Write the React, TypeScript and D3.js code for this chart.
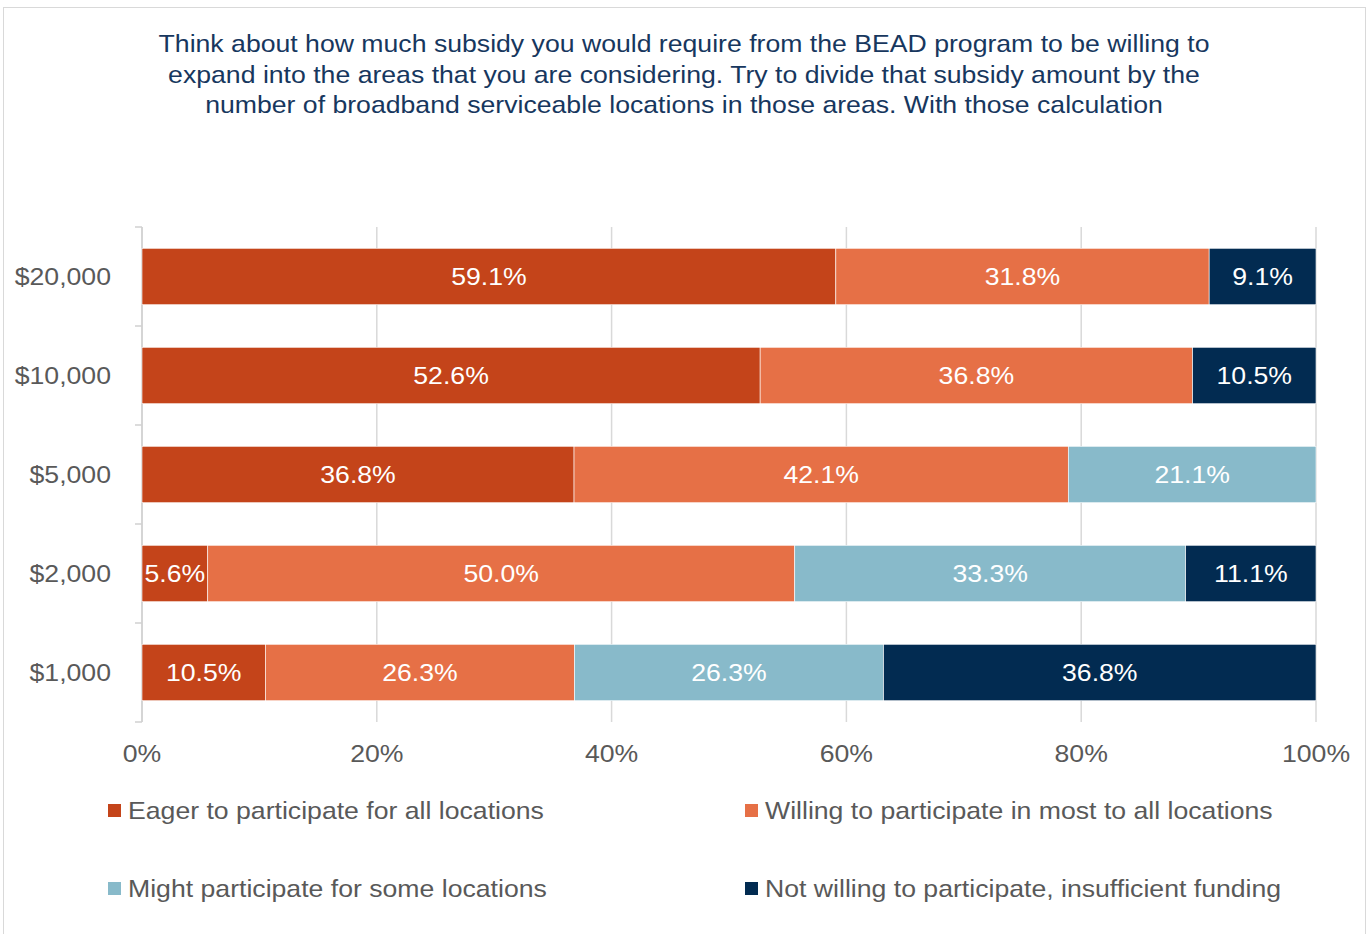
import React from "react";
import * as d3 from "d3";

const categories = ["$20,000", "$10,000", "$5,000", "$2,000", "$1,000"];
const seriesNames = [
  "Eager to participate for all locations",
  "Willing to participate in most to all locations",
  "Might participate for some locations",
  "Not willing to participate, insufficient funding",
];
const eager = [59.1, 52.6, 36.8, 5.6, 10.5];
const willing = [31.8, 36.8, 42.1, 50.0, 26.3];
const might = [0, 0, 21.1, 33.3, 26.3];
const notWilling = [9.1, 10.5, 0, 11.1, 36.8];
const xTicks = [0, 20, 40, 60, 80, 100];
const titleLines = [
  "Think about how much subsidy you would require from the BEAD program to be willing to",
  "expand into the areas that you are considering. Try to divide that subsidy amount by the",
  "number of broadband serviceable locations in those areas. With those calculation",
];

const colors = ["#C4441A", "#E67046", "#88BACA", "#022B51"];
const FONT = "'Liberation Sans', Arial, sans-serif";
const SX = 1.11;

function T({ x, y, anchor = "start", fill, size = 24, children }: any) {
  return (
    <g transform={`translate(${x},${y}) scale(${SX},1)`}>
      <text x={0} y={0} dy="0.35em" textAnchor={anchor} fontSize={size} fill={fill}>
        {children}
      </text>
    </g>
  );
}

export default function App() {
  const W = 1371, H = 934;
  const x = d3.scaleLinear().domain([0, 100]).range([142, 1316]);
  const y = d3.scaleBand().domain(categories).range([227, 722]).paddingInner(0.43).paddingOuter(0.215);
  const series = [eager, willing, might, notWilling];
  const rows = categories.map((c, i) => {
    const total = d3.sum(series, (s) => s[i]);
    let acc = 0;
    return series.map((s, k) => {
      const v = s[i];
      const seg = { k, x0: (acc / total) * 100, x1: ((acc + v) / total) * 100, v };
      acc += v;
      return seg;
    });
  });
  const bandStep = y.step();
  const legendPos = [
    { x: 108, y: 811 },
    { x: 745, y: 811 },
    { x: 108, y: 889 },
    { x: 745, y: 889 },
  ];
  return (
    <svg width={W} height={H} style={{ position: "absolute", left: 0, top: 0 }} fontFamily={FONT}>
      <rect x={0} y={0} width={W} height={H} fill="#fff" />
      <rect x={3.5} y={7.5} width={1362} height={940} fill="none" stroke="#d9d9d9" strokeWidth={1} />
      {titleLines.map((t, i) => (
        <T key={i} x={684} y={44 + i * 30.5} anchor="middle" fill="#17375E">
          {t}
        </T>
      ))}
      {xTicks.map((t) => (
        <line key={t} x1={x(t)} x2={x(t)} y1={227} y2={722} stroke="#d9d9d9" strokeWidth={1.5} />
      ))}
      <line x1={142} x2={142} y1={227} y2={722} stroke="#d0d0d0" strokeWidth={1.5} />
      {d3.range(categories.length + 1).map((i) => (
        <line key={i} x1={135} x2={142} y1={227 + i * bandStep} y2={227 + i * bandStep} stroke="#d0d0d0" strokeWidth={1.5} />
      ))}
      {rows.map((row, i) => (
        <g key={categories[i]}>
          {row.filter((s) => s.v > 0).map((s) => (
            <g key={s.k}>
              <rect
                x={x(s.x0)}
                y={y(categories[i])}
                width={x(s.x1) - x(s.x0)}
                height={y.bandwidth()}
                fill={colors[s.k]}
                stroke="#fff"
                strokeWidth={0.6}
              />
              <T x={(x(s.x0) + x(s.x1)) / 2} y={y(categories[i])! + y.bandwidth() / 2} anchor="middle" fill="#fff">
                {s.v.toFixed(1) + "%"}
              </T>
            </g>
          ))}
          <T x={111} y={y(categories[i])! + y.bandwidth() / 2} anchor="end" fill="#595959">
            {categories[i]}
          </T>
        </g>
      ))}
      {xTicks.map((t) => (
        <T key={t} x={x(t)} y={754} anchor="middle" fill="#595959">
          {t + "%"}
        </T>
      ))}
      {seriesNames.map((n, i) => (
        <g key={n}>
          <rect x={legendPos[i].x} y={legendPos[i].y - 7} width={13} height={13} fill={colors[i]} />
          <T x={legendPos[i].x + 20} y={legendPos[i].y} fill="#595959">
            {n}
          </T>
        </g>
      ))}
    </svg>
  );
}
